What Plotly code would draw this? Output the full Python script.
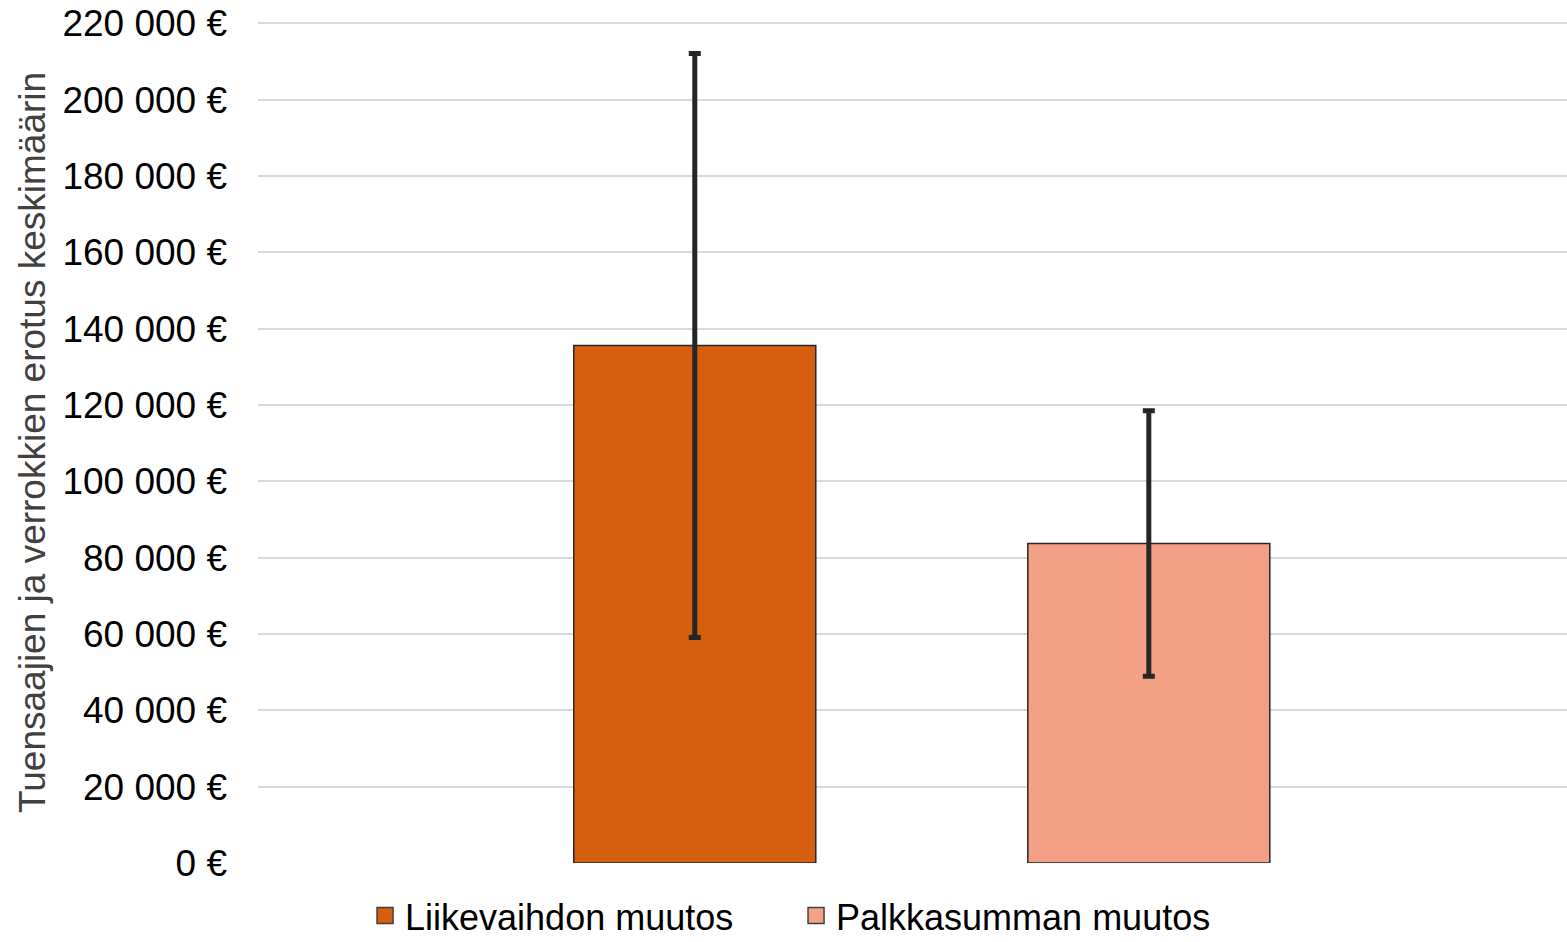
import plotly.graph_objects as go

series_names = ["Liikevaihdon muutos", "Palkkasumman muutos"]
category = [""]
values = [135600, 83700]
errors = [76500, 34800]
colors = ["#D55E0F", "#F4A086"]

tick_values = [0, 20000, 40000, 60000, 80000, 100000, 120000, 140000, 160000, 180000, 200000, 220000]
tick_labels = ["0 €", "20 000 €", "40 000 €", "60 000 €", "80 000 €", "100 000 €", "120 000 €",
               "140 000 €", "160 000 €", "180 000 €", "200 000 €", "220 000 €"]
y_title = "Tuensaajien ja verrokkien erotus keskimäärin"

FONT = "Liberation Sans, Arial, sans-serif"

fig = go.Figure()
for name, v, e, c in zip(series_names, values, errors, colors):
    fig.add_trace(go.Bar(
        name=name, x=category, y=[v], showlegend=False, legendgroup=name,
        marker=dict(color=c, line=dict(color="#262626", width=1.5)),
        error_y=dict(type="data", array=[e], visible=True, color="#262626", thickness=5, width=6),
    ))
# legend entries (square swatches)
for name, c in zip(series_names, colors):
    fig.add_trace(go.Scatter(
        name=name, x=[None], y=[None], mode="markers", legendgroup=name,
        marker=dict(symbol="square", size=18, color=c, line=dict(color="#404040", width=1.5)),
    ))

fig.update_layout(
    width=1567, height=942,
    margin=dict(l=258, r=0, t=21, b=79),
    paper_bgcolor="white", plot_bgcolor="white",
    barmode="group", bargap=0.316, bargroupgap=0.467,
    font=dict(family=FONT, size=37, color="black"),
    showlegend=True,
    legend=dict(orientation="h", xref="container", yref="container",
                x=0.508, xanchor="center", y=0.028, yanchor="middle",
                font=dict(family=FONT, size=36, color="black"), bgcolor="rgba(0,0,0,0)",
                entrywidth=386, entrywidthmode="pixels", itemclick=False, itemsizing="trace",
                borderwidth=0, tracegroupgap=0),
    xaxis=dict(range=[-0.5, 0.486], showticklabels=False, showgrid=False, zeroline=False,
               showline=False, fixedrange=True),
    yaxis=dict(range=[0, 220600], tickvals=tick_values, ticktext=tick_labels,
               showgrid=True, gridcolor="#d9d9d9", gridwidth=2, zeroline=False, showline=False,
               ticklabelstandoff=30, tickfont=dict(family=FONT, size=37, color="black")),
    annotations=[dict(text=y_title, xref="paper", yref="paper", x=-0.1727, y=0.5,
                      xanchor="center", yanchor="middle", textangle=-90, showarrow=False,
                      font=dict(family=FONT, size=37, color="#404040"))],
)

fig.write_html("out.html", config={"displayModeBar": False},
               post_script="document.body.style.margin='0';document.body.style.overflow='hidden';")
